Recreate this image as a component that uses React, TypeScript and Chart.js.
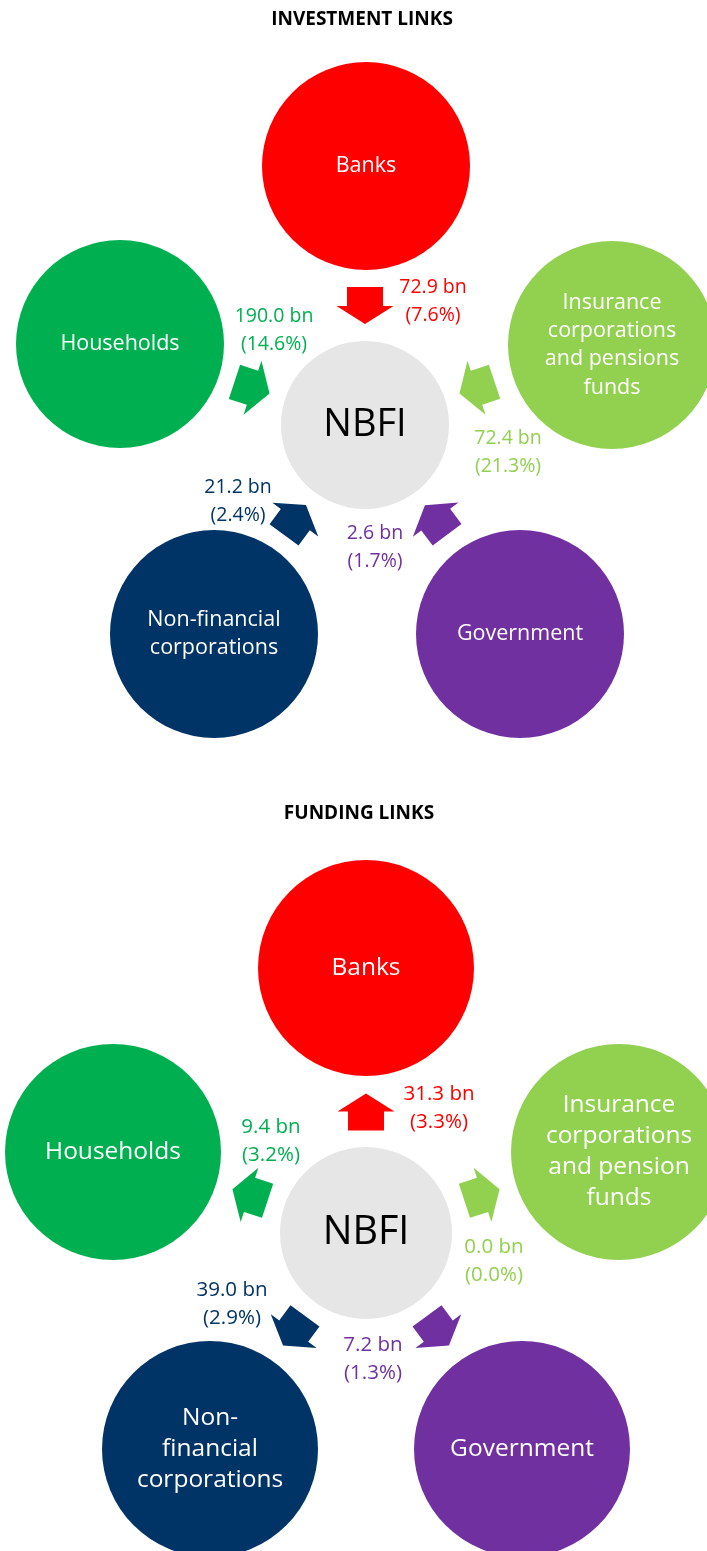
import React, { useEffect, useRef } from "react";
import { Chart, registerables } from "chart.js";

Chart.register(...registerables);

// ---------------- data ----------------
const sectorColors = ["#FF0000", "#00B050", "#92D050", "#003366", "#7030A0"];
const hubName = "NBFI";
const hubColor = "#E6E6E6";

const investmentTitle = "INVESTMENT LINKS";
const investmentNames = [
  ["Banks"],
  ["Households"],
  ["Insurance", "corporations", "and pensions", "funds"],
  ["Non-financial", "corporations"],
  ["Government"],
];
const investmentBn = [72.9, 190.0, 72.4, 21.2, 2.6];
const investmentPct = [7.6, 14.6, 21.3, 2.4, 1.7];

const fundingTitle = "FUNDING LINKS";
const fundingNames = [
  ["Banks"],
  ["Households"],
  ["Insurance", "corporations", "and pension", "funds"],
  ["Non-", "financial", "corporations"],
  ["Government"],
];
const fundingBn = [31.3, 9.4, 0.0, 39.0, 7.2];
const fundingPct = [3.3, 3.2, 0.0, 2.9, 1.3];

// ---------------- layout (pixels) ----------------
const W = 707;
const H = 1551;
const FONT = '"Open Sans", "Noto Sans", sans-serif';

type P = { x: number; y: number };
type Panel = {
  title: string;
  titlePos: P;
  titleSize: number;
  hub: P & { r: number };
  hubSize: number;
  nodeR: number;
  nodes: P[];
  nameSize: number;
  nameLH: number;
  arrows: P[];
  labels: P[];
  valueSize: number;
  valueLH: number;
  flow: "in" | "out";
  names: string[][];
  bn: number[];
  pct: number[];
};

const panels: Panel[] = [
  {
    title: investmentTitle,
    titlePos: { x: 362, y: 20 },
    titleSize: 19,
    hub: { x: 365, y: 425, r: 84 },
    hubSize: 38,
    nodeR: 104,
    nodes: [
      { x: 366, y: 166 },
      { x: 120, y: 344 },
      { x: 612, y: 345 },
      { x: 214, y: 634 },
      { x: 520, y: 634 },
    ],
    nameSize: 21.5,
    nameLH: 28.3,
    arrows: [
      { x: 365, y: 305.5 },
      { x: 252, y: 387.6 },
      { x: 477, y: 387.6 },
      { x: 295, y: 520 },
      { x: 436, y: 520 },
    ],
    labels: [
      { x: 433, y: 287 },
      { x: 274, y: 316 },
      { x: 508, y: 438 },
      { x: 238, y: 487 },
      { x: 375, y: 533 },
    ],
    valueSize: 19.5,
    valueLH: 28.5,
    flow: "in",
    names: investmentNames,
    bn: investmentBn,
    pct: investmentPct,
  },
  {
    title: fundingTitle,
    titlePos: { x: 359, y: 814 },
    titleSize: 19,
    hub: { x: 366, y: 1233, r: 86 },
    hubSize: 39.5,
    nodeR: 108,
    nodes: [
      { x: 366, y: 968 },
      { x: 113, y: 1152 },
      { x: 619, y: 1152 },
      { x: 210, y: 1449 },
      { x: 522, y: 1449 },
    ],
    nameSize: 24.5,
    nameLH: 31,
    arrows: [
      { x: 366, y: 1112 },
      { x: 250, y: 1195 },
      { x: 482, y: 1195 },
      { x: 294, y: 1330.7 },
      { x: 438, y: 1330.7 },
    ],
    labels: [
      { x: 439, y: 1094 },
      { x: 271, y: 1127 },
      { x: 494, y: 1247 },
      { x: 232, y: 1290 },
      { x: 373, y: 1345 },
    ],
    valueSize: 20.5,
    valueLH: 28.5,
    flow: "out",
    names: fundingNames,
    bn: fundingBn,
    pct: fundingPct,
  },
];

const ARROW = { len: 37, headLen: 18, headW: 57, shaftW: 36 };

function drawArrow(ctx: CanvasRenderingContext2D, cx: number, cy: number, angle: number, color: string) {
  const { len, headLen, headW, shaftW } = ARROW;
  ctx.save();
  ctx.translate(cx, cy);
  ctx.rotate(angle);
  ctx.beginPath();
  ctx.moveTo(len / 2, 0);
  ctx.lineTo(len / 2 - headLen, -headW / 2);
  ctx.lineTo(len / 2 - headLen, -shaftW / 2);
  ctx.lineTo(-len / 2, -shaftW / 2);
  ctx.lineTo(-len / 2, shaftW / 2);
  ctx.lineTo(len / 2 - headLen, shaftW / 2);
  ctx.lineTo(len / 2 - headLen, headW / 2);
  ctx.closePath();
  ctx.fillStyle = color;
  ctx.fill();
  ctx.restore();
}

const overlayPlugin = {
  id: "diagramOverlay",
  afterDatasetsDraw(chart: any) {
    const ctx: CanvasRenderingContext2D = chart.ctx;
    const xs = chart.scales.x;
    const ys = chart.scales.y;
    const px = (v: number) => xs.getPixelForValue(v);
    const py = (v: number) => ys.getPixelForValue(v);
    ctx.save();
    ctx.textAlign = "center";
    ctx.textBaseline = "middle";
    panels.forEach((p) => {
      // title
      ctx.fillStyle = "#000000";
      ctx.font = `bold ${p.titleSize}px ${FONT}`;
      ctx.fillText(p.title, px(p.titlePos.x), py(p.titlePos.y));
      // hub label
      ctx.font = `${p.hubSize}px ${FONT}`;
      ctx.fillStyle = "#000000";
      ctx.fillText(hubName, px(p.hub.x), py(p.hub.y));
      p.nodes.forEach((n, i) => {
        // node names
        const lines = p.names[i];
        ctx.font = `${p.nameSize}px ${FONT}`;
        ctx.fillStyle = "#FFFFFF";
        const y0 = n.y - ((lines.length - 1) * p.nameLH) / 2;
        lines.forEach((l, k) => ctx.fillText(l, px(n.x), py(y0 + k * p.nameLH)));
        // arrows
        const a = p.arrows[i];
        const ax = px(a.x);
        const ay = py(a.y);
        const hx = px(p.hub.x);
        const hy = py(p.hub.y);
        const ang = p.flow === "in" ? Math.atan2(hy - ay, hx - ax) : Math.atan2(ay - hy, ax - hx);
        drawArrow(ctx, ax, ay, ang, sectorColors[i]);
        // values
        const lb = p.labels[i];
        ctx.font = `${p.valueSize}px ${FONT}`;
        ctx.fillStyle = sectorColors[i];
        ctx.fillText(`${p.bn[i].toFixed(1)} bn`, px(lb.x), py(lb.y));
        ctx.fillText(`(${p.pct[i].toFixed(1)}%)`, px(lb.x), py(lb.y + p.valueLH));
      });
    });
    ctx.restore();
  },
};

export default function App() {
  const ref = useRef<HTMLCanvasElement | null>(null);
  useEffect(() => {
    if (!ref.current) return;
    const datasets = panels.map((p, pi) => ({
      label: pi === 0 ? "Investment" : "Funding",
      data: [...p.nodes.map((n) => ({ x: n.x, y: n.y })), { x: p.hub.x, y: p.hub.y }],
      pointRadius: [...p.nodes.map(() => p.nodeR), p.hub.r],
      pointHoverRadius: [...p.nodes.map(() => p.nodeR), p.hub.r],
      pointBackgroundColor: [...sectorColors, hubColor],
      pointBorderWidth: 0,
      pointBorderColor: "rgba(0,0,0,0)",
      showLine: false,
      clip: false as any,
    }));
    const chart = new Chart(ref.current, {
      type: "scatter",
      data: { datasets },
      options: {
        animation: false,
        responsive: false,
        maintainAspectRatio: false,
        events: [],
        layout: { padding: 0, autoPadding: false },
        scales: {
          x: { type: "linear", min: 0, max: W, display: false },
          y: { type: "linear", min: 0, max: H, reverse: true, display: false },
        },
        plugins: {
          legend: { display: false },
          tooltip: { enabled: false },
        },
      },
      plugins: [overlayPlugin],
    });
    return () => chart.destroy();
  }, []);
  return (
    <div style={{ position: "absolute", left: 0, top: 0, width: W, height: H, background: "#FFFFFF", overflow: "hidden" }}>
      <canvas ref={ref} width={W} height={H} style={{ display: "block", width: W, height: H }} />
    </div>
  );
}
